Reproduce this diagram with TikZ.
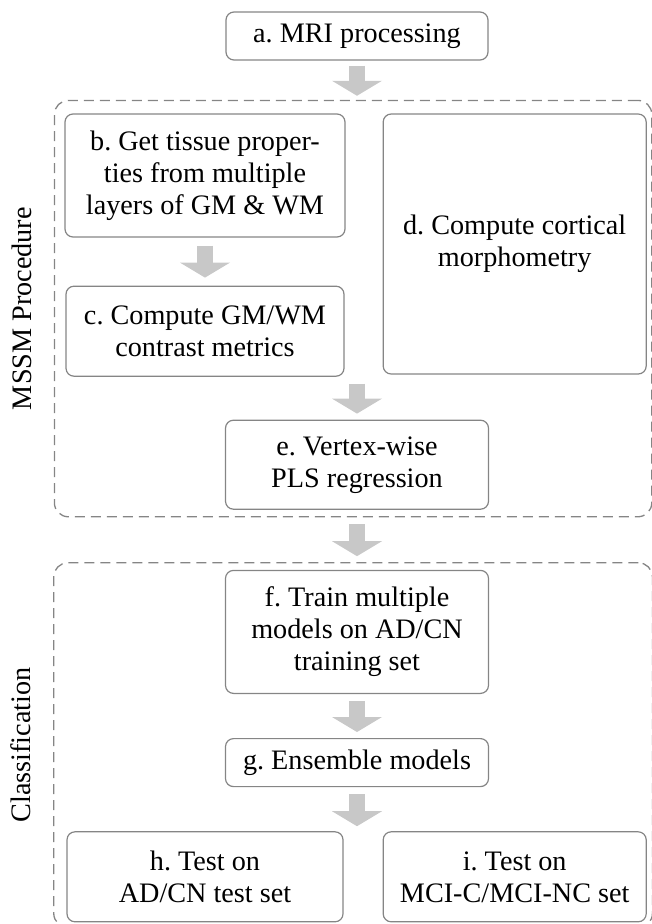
\documentclass[tikz,border=0pt]{standalone}
\usepackage{fontspec}
\setmainfont{Liberation Serif}
\frenchspacing
\usetikzlibrary{positioning, arrows.meta, fit}
\definecolor{linegray}{HTML}{858585}
\definecolor{arrowgray}{HTML}{C8C8C8}
\tikzset{
  box/.style={draw=linegray, line width=1.2pt, rounded corners=8pt, align=center,
    inner sep=0pt, minimum height=48pt},
  flow/.style={draw=arrowgray, line width=16pt,
    -{Triangle[length=15pt, width=50pt, line width=0pt]},
    shorten <=7pt, shorten >=6pt},
  frame/.style={draw=linegray, line width=1.3pt, dash pattern=on 10pt off 6pt,
    rounded corners=14pt, inner sep=0pt},
  grouplabel/.style={rotate=90, anchor=center},
}

\begin{document}
\begin{tikzpicture}[x=1pt, y=1pt, font=\fontsize{28.2pt}{32pt}\selectfont]
  \useasboundingbox (0,0) rectangle (651,-924);

  % steps
  \node[box, minimum width=262pt] (mri) at (357,-36) {a. MRI processing};
  \node[box, minimum width=280pt, minimum height=123pt] (tissue) at (205,-175.5)
    {b. Get tissue proper-\\ties from multiple\\layers of GM \& WM};
  \node[box, minimum width=263pt, minimum height=260pt,
    right=37pt of tissue.north east, anchor=north west] (morph)
    {d. Compute cortical\\morphometry};
  \node[box, minimum width=278pt, minimum height=90pt, below=48pt of tissue] (contrast)
    {c. Compute GM/WM\\contrast metrics};
  \coordinate (join) at (mri |- morph.south);
  \node[box, minimum width=263pt, minimum height=89pt, below=45pt of join] (pls)
    {e. Vertex-wise\\PLS regression};
  \node[box, minimum width=263pt, minimum height=123pt, below=60pt of pls] (train)
    {f. Train multiple\\models on AD/CN\\training set};
  \node[box, minimum width=263pt, below=44pt of train] (ensemble) {g. Ensemble models};
  \coordinate (split) at (ensemble.south);
  \node[box, minimum width=276pt, minimum height=90pt, anchor=north] (testad)
    at ([yshift=-44pt]split -| contrast) {h. Test on\\AD/CN test set};
  \node[box, minimum width=263pt, minimum height=90pt] (testmci) at (testad -| morph)
    {i. Test on\\MCI-C/MCI-NC set};

  % groups
  \node[frame, fit={([shift={(-10,13)}]tissue.north west) ([shift={(5,-7)}]pls.south -| morph.east)}] (mssm) {};
  \node[frame, fit={([yshift=7]train.north -| mssm.west) ([yshift=-5]testmci.south -| mssm.east)}] (cls) {};
  \node[grouplabel] at ([xshift=-32]mssm.west) {MSSM Procedure};
  \node[grouplabel] at ([xshift=-32]cls.west) {Classification};

  % flow
  \draw[flow, shorten <=5pt, shorten >=4pt] (mri) -- (mri |- mssm.north);
  \draw[flow, shorten <=8pt, shorten >=8pt] (tissue) -- (contrast);
  \draw[flow, shorten <=9pt] (join) -- (pls);
  \draw[flow] (pls |- mssm.south) -- (pls |- cls.north);
  \draw[flow] (train) -- (ensemble);
  \draw[flow, shorten >=5pt] (split) -- (split |- testad.north);
\end{tikzpicture}
\end{document}
